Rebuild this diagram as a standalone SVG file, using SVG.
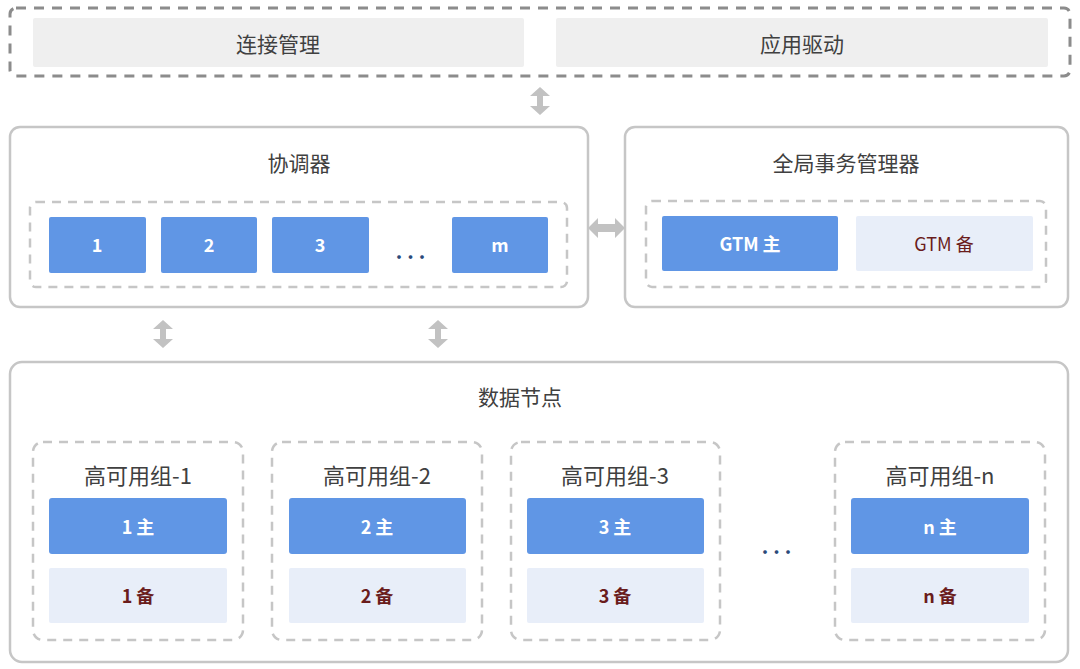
<svg xmlns="http://www.w3.org/2000/svg" width="1080" height="669" viewBox="0 0 1080 669">
<defs>
<style>
.panel{fill:#fff;stroke:#c6c6c6;stroke-width:2.5}
.dash{fill:none;stroke:#c6c6c6;stroke-width:2.5;stroke-dasharray:9 7}
.dashd{fill:none;stroke:#8c8c8c;stroke-width:3;stroke-dasharray:10 8}
.grey{fill:#efefef}
.pri{fill:#6096e5}
.sec{fill:#e8eef9}
.arr{fill:#c2c2c2}
text{font-family:"Noto Sans CJK SC","Liberation Sans",sans-serif;text-anchor:middle;dominant-baseline:central}
.t{font-size:21px;fill:#404040}
.g{font-size:22px;fill:#404040}
.w{font-size:18px;fill:#fff;font-weight:bold}
.d{font-size:18px;fill:#6a1c1c;font-weight:600}
.dots{font-size:20px;fill:#2a4a7a;font-weight:bold;letter-spacing:5px}
</style>
</defs>
<rect width="1080" height="669" fill="#fff"/>

<g id="client">
<rect class="dashd" x="10" y="8" width="1060" height="68" rx="6"/>
<rect class="grey" x="33" y="18" width="491" height="49" rx="2"/>
<text class="t" x="278" y="43">连接管理</text>
<rect class="grey" x="556" y="18" width="492" height="49" rx="2"/>
<text class="t" x="802" y="43">应用驱动</text>
</g>

<g id="coordinator">
<rect class="panel" x="10" y="127" width="578" height="180" rx="10"/>
<text class="t" x="299" y="162">协调器</text>
<rect class="dash" x="30" y="202" width="537" height="85" rx="6"/>
<rect class="pri" x="49" y="217" width="97" height="56" rx="2"/>
<text class="w" x="97" y="244">1</text>
<rect class="pri" x="161" y="217" width="96" height="56" rx="2"/>
<text class="w" x="209" y="244">2</text>
<rect class="pri" x="272" y="217" width="97" height="56" rx="2"/>
<text class="w" x="320" y="244">3</text>
<text class="dots" x="413" y="250">...</text>
<rect class="pri" x="452" y="217" width="96" height="56" rx="2"/>
<text class="w" x="500" y="244">m</text>
</g>

<g id="gtm">
<rect class="panel" x="625" y="127" width="443" height="180" rx="10"/>
<text class="t" x="846" y="162">全局事务管理器</text>
<rect class="dash" x="646" y="201" width="400" height="86" rx="6"/>
<rect class="pri" x="662" y="216" width="176" height="55" rx="2"/>
<text class="w" x="750" y="243">GTM 主</text>
<rect class="sec" x="856" y="216" width="177" height="55" rx="2"/>
<text class="d" x="944" y="243" style="font-weight:normal">GTM 备</text>
</g>

<g id="datanodes">
<rect class="panel" x="10" y="362" width="1058" height="300" rx="12"/>
<text class="t" x="520" y="396">数据节点</text>
</g>

<g id="group1">
<rect class="dash" x="33" y="442" width="210" height="198" rx="10"/>
<text class="g" x="138" y="474">高可用组-1</text>
<rect class="pri" x="49" y="498" width="178" height="56" rx="3"/>
<text class="w" x="138" y="526">1 主</text>
<rect class="sec" x="49" y="568" width="178" height="55" rx="2"/>
<text class="d" x="138" y="595">1 备</text>
</g>
<g id="group2">
<rect class="dash" x="272" y="442" width="210" height="198" rx="10"/>
<text class="g" x="377" y="474">高可用组-2</text>
<rect class="pri" x="289" y="498" width="177" height="56" rx="3"/>
<text class="w" x="377" y="526">2 主</text>
<rect class="sec" x="289" y="568" width="177" height="55" rx="2"/>
<text class="d" x="377" y="595">2 备</text>
</g>
<g id="group3">
<rect class="dash" x="511" y="442" width="209" height="198" rx="10"/>
<text class="g" x="615" y="474">高可用组-3</text>
<rect class="pri" x="527" y="498" width="177" height="56" rx="3"/>
<text class="w" x="615" y="526">3 主</text>
<rect class="sec" x="527" y="568" width="177" height="55" rx="2"/>
<text class="d" x="615" y="595">3 备</text>
</g>
<text class="dots" x="779" y="545">...</text>
<g id="groupn">
<rect class="dash" x="835" y="442" width="210" height="198" rx="10"/>
<text class="g" x="940" y="474">高可用组-n</text>
<rect class="pri" x="851" y="498" width="178" height="56" rx="3"/>
<text class="w" x="940" y="526">n 主</text>
<rect class="sec" x="851" y="568" width="178" height="55" rx="2"/>
<text class="d" x="940" y="595">n 备</text>
</g>

<g id="connectors">
<polygon class="arr" points="540,87 550,96 543,96 543,106 550,106 540,115 530,106 537,106 537,96 530,96"/>
<polygon class="arr" points="588,228 598,218 598,224 615,224 615,218 625,228 615,238 615,232 598,232 598,238"/>
<polygon class="arr" points="163,320 173,329 166,329 166,339 173,339 163,348 153,339 160,339 160,329 153,329"/>
<polygon class="arr" points="438,320 448,329 441,329 441,339 448,339 438,348 428,339 435,339 435,329 428,329"/>
</g>
</svg>
